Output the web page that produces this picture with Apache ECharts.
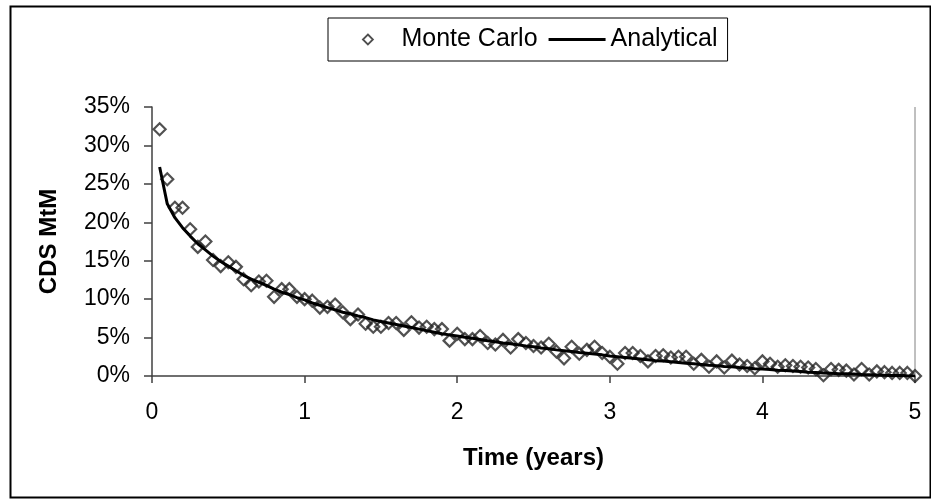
<!DOCTYPE html>
<html>
<head>
<meta charset="utf-8">
<script src="https://cdn.jsdelivr.net/npm/echarts@6/dist/echarts.min.js"></script>
<style>
html,body{margin:0;padding:0;background:#fff;}
#chart{width:931px;height:499px;}
</style>
</head>
<body>
<div id="chart"></div>
<script>
// Time grid (years)
var times = [0.05,0.10,0.15,0.20,0.25,0.30,0.35,0.40,0.45,0.50,
             0.55,0.60,0.65,0.70,0.75,0.80,0.85,0.90,0.95,1.00,
             1.05,1.10,1.15,1.20,1.25,1.30,1.35,1.40,1.45,1.50,
             1.55,1.60,1.65,1.70,1.75,1.80,1.85,1.90,1.95,2.00,
             2.05,2.10,2.15,2.20,2.25,2.30,2.35,2.40,2.45,2.50,
             2.55,2.60,2.65,2.70,2.75,2.80,2.85,2.90,2.95,3.00,
             3.05,3.10,3.15,3.20,3.25,3.30,3.35,3.40,3.45,3.50,
             3.55,3.60,3.65,3.70,3.75,3.80,3.85,3.90,3.95,4.00,
             4.05,4.10,4.15,4.20,4.25,4.30,4.35,4.40,4.45,4.50,
             4.55,4.60,4.65,4.70,4.75,4.80,4.85,4.90,4.95,5.00];

// Monte Carlo CDS MtM (%)
var monteCarlo = [32.1,25.6,21.9,21.9,19.1,16.8,17.5,15.1,14.3,14.8,
                  14.2,12.6,11.8,12.3,12.4,10.3,11.3,11.3,10.3,10.0,
                  9.8,8.9,9.0,9.3,8.3,7.4,8.0,6.8,6.4,6.4,
                  6.9,6.9,6.0,7.0,6.3,6.4,6.1,6.1,4.6,5.5,
                  4.8,4.8,5.2,4.3,4.1,4.7,3.7,4.8,4.3,3.9,
                  3.7,4.2,3.2,2.3,3.8,2.9,3.4,3.8,3.0,2.5,
                  1.6,3.0,3.0,2.6,1.9,2.6,2.7,2.4,2.5,2.5,
                  1.6,2.1,1.2,1.9,1.1,2.0,1.5,1.3,1.0,1.9,
                  1.6,1.2,1.4,1.3,1.2,1.1,0.9,0.1,0.9,0.8,
                  0.7,0.2,0.9,0.2,0.6,0.5,0.4,0.4,0.4,0.0];

// Analytical CDS MtM (%)
var analytical = [27.2,22.4,20.6,19.3,18.2,17.2,16.4,15.6,14.9,14.3,
                  13.7,13.1,12.6,12.2,11.8,11.3,10.9,10.6,10.2,9.9,
                  9.5,9.2,8.9,8.6,8.3,8.1,7.8,7.6,7.3,7.1,
                  6.9,6.7,6.5,6.3,6.1,5.9,5.7,5.5,5.35,5.2,
                  5.05,4.9,4.75,4.6,4.45,4.3,4.2,4.05,3.9,3.8,
                  3.65,3.55,3.4,3.3,3.2,3.05,2.95,2.85,2.75,2.6,
                  2.5,2.4,2.3,2.2,2.1,2.0,1.95,1.85,1.75,1.65,
                  1.6,1.5,1.4,1.35,1.25,1.2,1.1,1.05,0.95,0.9,
                  0.85,0.75,0.7,0.65,0.6,0.5,0.45,0.4,0.35,0.3,
                  0.28,0.25,0.2,0.17,0.14,0.1,0.07,0.05,0.02,0.0];

var seriesNames = ['Monte Carlo', 'Analytical'];
var xTitle = 'Time (years)';
var yTitle = 'CDS MtM';

var mcData = times.map(function (t, i) { return [t, monteCarlo[i]]; });
var anData = times.map(function (t, i) { return [t, analytical[i]]; });

var FONT = '"Liberation Sans", Arial, sans-serif';
var chart = echarts.init(document.getElementById('chart'), null, {renderer: 'canvas'});
chart.setOption({
  animation: false,
  backgroundColor: '#fff',
  graphic: [{
    type: 'rect', left: 8, top: 4,
    shape: {width: 920, height: 491},
    style: {fill: 'none', stroke: '#000', lineWidth: 2},
    silent: true
  }, {
    type: 'line',
    shape: {x1: 915, y1: 107, x2: 915, y2: 376},
    style: {stroke: '#808080', lineWidth: 1},
    silent: true
  }],
  legend: {
    left: 328, top: 18,
    padding: [9, 10, 9, 34],
    itemGap: 11,
    itemWidth: 57,
    itemHeight: 10,
    borderColor: '#000', borderWidth: 1,
    textStyle: {fontFamily: FONT, fontSize: 25, color: '#000'},
    data: [
      {name: seriesNames[0], icon: 'path://M5,0L10,5L5,10L0,5Z',
       itemStyle: {color: 'rgba(0,0,0,0)', borderColor: '#222', borderWidth: 1.8}},
      {name: seriesNames[1], icon: 'path://M0,0L57,0L57,3L0,3Z',
       itemStyle: {color: '#000', borderWidth: 0}}
    ]
  },
  grid: {left: 152, top: 107, right: 16, bottom: 123, containLabel: false},
  xAxis: {
    type: 'value', min: 0, max: 5, interval: 1,
    name: xTitle, nameLocation: 'middle', nameGap: 70,
    nameTextStyle: {fontFamily: FONT, fontSize: 24, fontWeight: 'bold', color: '#000'},
    axisLine: {show: true, lineStyle: {color: '#404040', width: 1.5}},
    axisTick: {show: true, inside: false, length: 7, lineStyle: {color: '#404040', width: 1.5}},
    axisLabel: {fontFamily: FONT, fontSize: 23, color: '#000', margin: 25},
    splitLine: {show: false}
  },
  yAxis: {
    type: 'value', min: 0, max: 35, interval: 5,
    name: yTitle, nameLocation: 'middle', nameGap: 91, nameRotate: 90,
    nameTextStyle: {fontFamily: FONT, fontSize: 24, fontWeight: 'bold', color: '#000'},
    axisLine: {show: true, lineStyle: {color: '#404040', width: 1.5}},
    axisTick: {show: true, inside: false, length: 8, lineStyle: {color: '#404040', width: 1.5}},
    axisLabel: {fontFamily: FONT, fontSize: 23, color: '#000', margin: 22, formatter: '{value}%'},
    splitLine: {show: false}
  },
  series: [{
    name: seriesNames[0], type: 'scatter',
    data: mcData,
    symbol: 'diamond', symbolSize: 12,
    itemStyle: {color: 'rgba(0,0,0,0)', borderColor: '#262626', borderWidth: 2.2},
    z: 2
  }, {
    name: seriesNames[1], type: 'line',
    data: anData,
    symbol: 'none', showSymbol: false,
    lineStyle: {color: '#000', width: 3},
    itemStyle: {color: '#000'},
    z: 3
  }]
});
</script>
</body>
</html>
